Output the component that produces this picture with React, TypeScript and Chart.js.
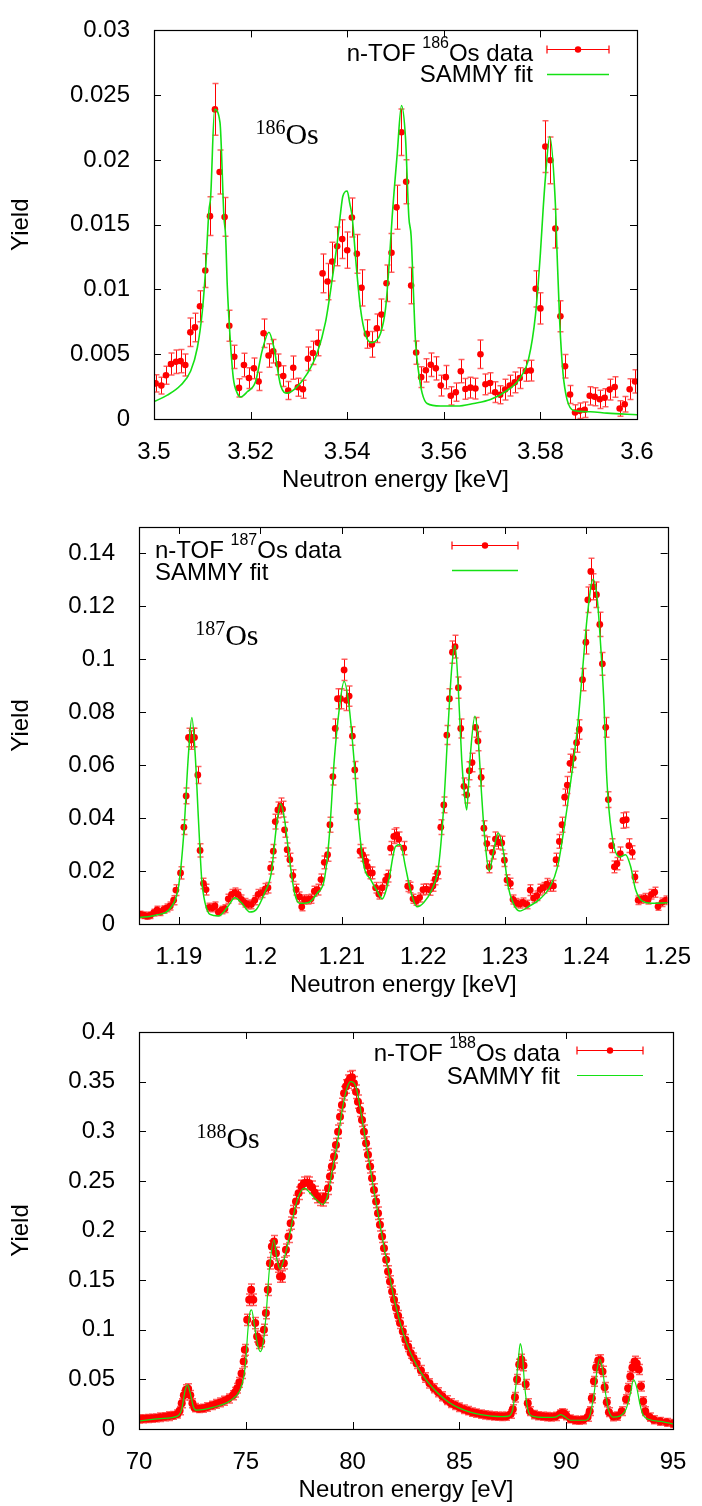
import React, { useEffect, useRef } from "react";
import { Chart, registerables } from "chart.js";
Chart.register(...registerables);

const SANS = "'Liberation Sans', Arial, Helvetica, sans-serif";
const SERIF = "'Liberation Serif', 'Times New Roman', serif";

// ---------------- text ----------------
const yTitle = "Yield";
const xTitleKeV = "Neutron energy [keV]";
const xTitleEV = "Neutron energy [eV]";
const legendPrefix = "n-TOF ";
const legendSuffix = "Os data";
const fitLabel = "SAMMY fit";
const elementLabel = "Os";

// ---------------- panel 1 : 186Os ----------------
const os186Iso = "186";
const os186XTicks = [3.5, 3.52, 3.54, 3.56, 3.58, 3.6];
const os186XLabels = ["3.5", "3.52", "3.54", "3.56", "3.58", "3.6"];
const os186YTicks = [0, 0.005, 0.01, 0.015, 0.02, 0.025, 0.03];
const os186YLabels = ["0", "0.005", "0.01", "0.015", "0.02", "0.025", "0.03"];
const os186Energy = [
  3.50034, 3.50152, 3.50248, 3.50352, 3.50455, 3.50552, 3.50648, 3.50752, 3.50848, 3.50952,
  3.51062, 3.51159, 3.51262, 3.51359, 3.51462, 3.51559, 3.51662, 3.51759, 3.51862, 3.51966,
  3.52069, 3.52166, 3.52269, 3.52372, 3.52469, 3.52572, 3.52676, 3.52779, 3.52883, 3.52979,
  3.53083, 3.53186, 3.5329, 3.53393, 3.5349, 3.53593, 3.5369, 3.53793, 3.53897, 3.54,
  3.54097, 3.542, 3.54297, 3.54407, 3.5451, 3.54614, 3.5471, 3.54814, 3.54917, 3.55021,
  3.55124, 3.55221, 3.55324, 3.55428, 3.55531, 3.55628, 3.55731, 3.55834, 3.55938, 3.56041,
  3.56145, 3.56248, 3.56352, 3.56448, 3.56552, 3.56655, 3.56759, 3.56862, 3.56959, 3.57062,
  3.57166, 3.57269, 3.57366, 3.57469, 3.57572, 3.57697, 3.578, 3.57903, 3.58, 3.58103,
  3.58207, 3.5831, 3.58414, 3.5851, 3.58614, 3.58717, 3.58814, 3.58917, 3.59021, 3.59124,
  3.59228, 3.59331, 3.59434, 3.59538, 3.59641, 3.59745, 3.59848, 3.59959,
];
const os186Yield = [
  0.00275, 0.00258, 0.00338, 0.00424, 0.00442, 0.00447, 0.00417, 0.00669, 0.00707, 0.00871,
  0.01146, 0.01566, 0.0239, 0.01907, 0.0156, 0.0072, 0.0048, 0.0024, 0.00417, 0.00316,
  0.00391, 0.0029, 0.00662, 0.0049, 0.00523, 0.00422, 0.00331, 0.0022, 0.00396, 0.00245,
  0.0023, 0.00465, 0.0051, 0.00588, 0.01124, 0.01061, 0.01215, 0.01333, 0.01389, 0.01303,
  0.01556, 0.01275, 0.01013, 0.00657, 0.00576, 0.007, 0.00806, 0.01048, 0.01283, 0.01634,
  0.02214, 0.01831, 0.0103, 0.00513, 0.00323, 0.00376, 0.00419, 0.00391, 0.00258, 0.00323,
  0.00179, 0.00207, 0.00369, 0.00232, 0.00242, 0.00235, 0.005, 0.00268, 0.00278, 0.00207,
  0.00187, 0.00227, 0.00258, 0.00283, 0.00316, 0.00371, 0.00374, 0.01005, 0.00854, 0.02103,
  0.01997, 0.0147, 0.00793, 0.00407, 0.00189, 0.0005, 0.00063, 0.00071, 0.00179, 0.00172,
  0.00152, 0.00164, 0.00227, 0.00247, 0.00081, 0.00114, 0.0023, 0.0029,
];
const os186Err = [
  0.00066, 0.00065, 0.0007, 0.00085, 0.0009, 0.0009, 0.00085, 0.0011, 0.0011, 0.0012,
  0.0013, 0.0015, 0.002, 0.0017, 0.0015, 0.0012, 0.0009, 0.0007, 0.0009, 0.0008,
  0.0008, 0.0007, 0.0011, 0.0009, 0.0009, 0.0008, 0.0008, 0.0007, 0.0009, 0.0007,
  0.0007, 0.0009, 0.0009, 0.001, 0.0015, 0.0014, 0.0015, 0.0015, 0.0015, 0.0014,
  0.0015, 0.0015, 0.0014, 0.0011, 0.001, 0.0011, 0.0012, 0.0014, 0.0015, 0.0017,
  0.0018, 0.0017, 0.0014, 0.0009, 0.0008, 0.0009, 0.0009, 0.0009, 0.0008, 0.0009,
  0.0007, 0.0007, 0.0009, 0.0008, 0.0008, 0.0008, 0.0011, 0.0008, 0.0008, 0.0008,
  0.0007, 0.0008, 0.0008, 0.0008, 0.0008, 0.0008, 0.0008, 0.0014, 0.0012, 0.002,
  0.0018, 0.0015, 0.0012, 0.0009, 0.0007, 0.0006, 0.0006, 0.0006, 0.0007, 0.0007,
  0.0007, 0.0007, 0.0008, 0.0008, 0.0006, 0.0006, 0.0008, 0.0009,
];
const os186FitEnergy = [
  3.5, 3.50276, 3.50552, 3.50759, 3.50897, 3.51, 3.51069, 3.51138, 3.51172, 3.51255,
  3.51366, 3.51448, 3.51483, 3.51517, 3.51572, 3.51641, 3.51724, 3.51793, 3.51931, 3.52103,
  3.52241, 3.52379, 3.52483, 3.52621, 3.52759, 3.52966, 3.53172, 3.53379, 3.53552, 3.5369,
  3.53793, 3.53862, 3.5391, 3.54, 3.54055, 3.54103, 3.54193, 3.54276, 3.54379, 3.54497,
  3.54586, 3.5469, 3.54793, 3.54862, 3.54931, 3.55034, 3.55124, 3.55207, 3.55276, 3.55324,
  3.55366, 3.55414, 3.55483, 3.55552, 3.55655, 3.55931, 3.56276, 3.56621, 3.56966, 3.5731,
  3.57586, 3.57759, 3.57897, 3.58, 3.58055, 3.58103, 3.58193, 3.5831, 3.58345, 3.584,
  3.58469, 3.58552, 3.5869, 3.59034, 3.59379, 3.6,
];
const os186FitYield = [
  0.00134, 0.00184, 0.0026, 0.0037, 0.0055, 0.0083, 0.0116, 0.0161, 0.0171, 0.0239,
  0.0229, 0.0156, 0.0141, 0.0103, 0.0065, 0.0032, 0.002, 0.0017, 0.0021, 0.0029,
  0.0053, 0.0067, 0.0055, 0.0026, 0.002, 0.0025, 0.0035, 0.0051, 0.0075, 0.0108,
  0.0136, 0.0159, 0.0172, 0.0176, 0.0166, 0.0156, 0.0116, 0.0085, 0.0065, 0.0059,
  0.006, 0.0066, 0.0085, 0.0116, 0.0156, 0.0204, 0.0242, 0.0217, 0.0156, 0.0141,
  0.0103, 0.006, 0.0035, 0.002, 0.0012, 0.001, 0.001, 0.0012, 0.0015, 0.0022,
  0.0032, 0.0047, 0.008, 0.0128, 0.0161, 0.0186, 0.0218, 0.0166, 0.0128, 0.0075,
  0.0035, 0.0015, 0.00066, 0.00056, 0.00045, 0.00033,
];

// ---------------- panel 2 : 187Os ----------------
const os187Iso = "187";
const os187XTicks = [1.19, 1.2, 1.21, 1.22, 1.23, 1.24, 1.25];
const os187XLabels = ["1.19", "1.2", "1.21", "1.22", "1.23", "1.24", "1.25"];
const os187YTicks = [0, 0.02, 0.04, 0.06, 0.08, 0.1, 0.12, 0.14];
const os187YLabels = ["0", "0.02", "0.04", "0.06", "0.08", "0.1", "0.12", "0.14"];
const os187Energy = [
  1.18528, 1.18569, 1.1861, 1.1865, 1.18691, 1.18732, 1.18772, 1.18813, 1.18854, 1.18894,
  1.18935, 1.18963, 1.1902, 1.19061, 1.19089, 1.19118, 1.19146, 1.19167, 1.19191, 1.19232,
  1.1926, 1.19301, 1.19333, 1.1937, 1.19411, 1.19443, 1.19484, 1.19524, 1.19565, 1.19606,
  1.19646, 1.19687, 1.19728, 1.19768, 1.19809, 1.1985, 1.1989, 1.19931, 1.19972, 1.2002,
  1.20061, 1.20093, 1.20126, 1.20159, 1.20183, 1.20215, 1.20248, 1.20272, 1.20297, 1.20329,
  1.20362, 1.20398, 1.20439, 1.2048, 1.20508, 1.20541, 1.20581, 1.20622, 1.20663, 1.20703,
  1.20744, 1.20785, 1.20825, 1.20854, 1.2089, 1.20919, 1.20947, 1.20984, 1.21028, 1.21057,
  1.2109, 1.2113, 1.21159, 1.21191, 1.21224, 1.21256, 1.21293, 1.21313, 1.21341, 1.21374,
  1.21415, 1.21455, 1.21496, 1.21537, 1.21565, 1.21598, 1.21638, 1.21671, 1.21699, 1.2176,
  1.21809, 1.21841, 1.21874, 1.21915, 1.21955, 1.21996, 1.22037, 1.22077, 1.22118, 1.22146,
  1.22175, 1.22215, 1.22252, 1.22289, 1.22321, 1.22358, 1.2239, 1.22431, 1.2246, 1.225,
  1.22533, 1.22565, 1.22598, 1.22642, 1.22671, 1.22711, 1.22744, 1.2278, 1.22809, 1.2285,
  1.22886, 1.22923, 1.22963, 1.22996, 1.23028, 1.23069, 1.23102, 1.23142, 1.23183, 1.23224,
  1.23272, 1.23313, 1.23354, 1.23394, 1.23435, 1.23476, 1.23516, 1.23557, 1.23598, 1.2363,
  1.23671, 1.23703, 1.23736, 1.23768, 1.23801, 1.23841, 1.23882, 1.23915, 1.23955, 1.23996,
  1.2402, 1.24057, 1.24089, 1.24126, 1.24167, 1.24199, 1.2424, 1.24272, 1.24313, 1.24346,
  1.24378, 1.24419, 1.24451, 1.24492, 1.24524, 1.24565, 1.24598, 1.24638, 1.24679, 1.2472,
  1.2476, 1.24801, 1.24841, 1.24882, 1.24931, 1.2498,
];
const os187Yield = [
  0.0036, 0.0033, 0.003, 0.0033, 0.0043, 0.0053, 0.0045, 0.0055, 0.0061, 0.0068,
  0.009, 0.0128, 0.0193, 0.0366, 0.0484, 0.0705, 0.0695, 0.0705, 0.0705, 0.0563,
  0.0278, 0.0153, 0.013, 0.0063, 0.0061, 0.0068, 0.0045, 0.0053, 0.0058, 0.0095,
  0.0112, 0.0118, 0.0112, 0.0093, 0.008, 0.0074, 0.0074, 0.009, 0.0112, 0.0118,
  0.0133, 0.0137, 0.0212, 0.0275, 0.0387, 0.0431, 0.0446, 0.0434, 0.0356, 0.0281,
  0.0243, 0.0183, 0.013, 0.0103, 0.0065, 0.0093, 0.0093, 0.0095, 0.0124, 0.013,
  0.0168, 0.0233, 0.0262, 0.0375, 0.0557, 0.0739, 0.0851, 0.0851, 0.096, 0.0845,
  0.0861, 0.071, 0.0582, 0.0425, 0.0275, 0.0262, 0.0237, 0.0218, 0.0193, 0.0193,
  0.0137, 0.0112, 0.0137, 0.0166, 0.0181, 0.0287, 0.0331, 0.0337, 0.0321, 0.0287,
  0.0143, 0.0138, 0.0095, 0.0087, 0.01, 0.013, 0.0132, 0.0129, 0.0144, 0.0169,
  0.0194, 0.0366, 0.045, 0.0714, 0.0851, 0.1027, 0.1048, 0.0893, 0.0739, 0.052,
  0.0488, 0.0579, 0.061, 0.0743, 0.0691, 0.0554, 0.0362, 0.0304, 0.0216, 0.0271,
  0.0321, 0.0309, 0.0306, 0.0241, 0.0166, 0.0153, 0.0093, 0.008, 0.0076, 0.0082,
  0.0074, 0.0128, 0.0098, 0.0107, 0.013, 0.0137, 0.0151, 0.0144, 0.0144, 0.0243,
  0.0312, 0.0375, 0.0479, 0.0525, 0.0607, 0.0626, 0.0685, 0.0735, 0.0923, 0.1065,
  0.1225, 0.1332, 0.1274, 0.1244, 0.1132, 0.0983, 0.0743, 0.047, 0.0296, 0.0216,
  0.0228, 0.0266, 0.0391, 0.0394, 0.0296, 0.0271, 0.0178, 0.009, 0.0094, 0.0098,
  0.0092, 0.0112, 0.012, 0.0066, 0.0082, 0.009,
];
const os187Err = [
  0.0012, 0.0012, 0.0012, 0.0012, 0.0013, 0.0014, 0.0013, 0.0014, 0.0015, 0.0015,
  0.0017, 0.002, 0.0023, 0.0028, 0.003, 0.0035, 0.0035, 0.0035, 0.0035, 0.0032,
  0.0025, 0.002, 0.002, 0.0015, 0.0015, 0.0015, 0.0013, 0.0014, 0.0015, 0.0017,
  0.0018, 0.0018, 0.0018, 0.0017, 0.0016, 0.0016, 0.0016, 0.0017, 0.0018, 0.0018,
  0.002, 0.002, 0.0023, 0.0025, 0.0028, 0.003, 0.003, 0.003, 0.0028, 0.0025,
  0.0024, 0.0022, 0.002, 0.0018, 0.0015, 0.0017, 0.0017, 0.0017, 0.0019, 0.002,
  0.0021, 0.0024, 0.0025, 0.0028, 0.0032, 0.0036, 0.0038, 0.0038, 0.004, 0.0038,
  0.0038, 0.0035, 0.0032, 0.003, 0.0025, 0.0025, 0.0024, 0.0023, 0.0022, 0.0022,
  0.002, 0.0018, 0.002, 0.0021, 0.0022, 0.0025, 0.0027, 0.0027, 0.0027, 0.0025,
  0.002, 0.002, 0.0017, 0.0016, 0.0017, 0.002, 0.002, 0.002, 0.002, 0.0021,
  0.0023, 0.0028, 0.003, 0.0036, 0.0038, 0.0042, 0.0043, 0.004, 0.0036, 0.0032,
  0.0031, 0.0034, 0.0035, 0.0037, 0.0036, 0.0033, 0.0028, 0.0026, 0.0022, 0.0025,
  0.0027, 0.0026, 0.0026, 0.0024, 0.002, 0.002, 0.0017, 0.0016, 0.0016, 0.0016,
  0.0016, 0.002, 0.0017, 0.0018, 0.002, 0.002, 0.0021, 0.002, 0.002, 0.0024,
  0.0026, 0.0028, 0.0031, 0.0032, 0.0034, 0.0035, 0.0036, 0.0037, 0.0042, 0.0045,
  0.0048, 0.005, 0.0049, 0.0048, 0.0046, 0.0043, 0.0037, 0.003, 0.0026, 0.0022,
  0.0023, 0.0025, 0.0029, 0.0029, 0.0026, 0.0025, 0.0021, 0.0016, 0.0016, 0.0017,
  0.0016, 0.0018, 0.0019, 0.0014, 0.0016, 0.0016,
];
const os187FitEnergy = [
  1.18508, 1.18711, 1.18915, 1.18996, 1.19057, 1.19118, 1.19159, 1.19199, 1.1924, 1.1928,
  1.19321, 1.19382, 1.19484, 1.19606, 1.19687, 1.19768, 1.1987, 1.19951, 1.20053, 1.20134,
  1.20195, 1.20248, 1.20297, 1.20358, 1.20419, 1.2048, 1.20581, 1.20703, 1.20785, 1.20846,
  1.20907, 1.20967, 1.21028, 1.2109, 1.2115, 1.21211, 1.21272, 1.21354, 1.21435, 1.21496,
  1.21577, 1.21659, 1.2172, 1.2178, 1.21841, 1.21923, 1.22004, 1.22106, 1.22187, 1.22248,
  1.22309, 1.2235, 1.2239, 1.22431, 1.22472, 1.22504, 1.22533, 1.22573, 1.22634, 1.22675,
  1.22715, 1.22756, 1.22809, 1.22858, 1.22919, 1.2298, 1.23041, 1.23102, 1.23183, 1.23305,
  1.23427, 1.23549, 1.2365, 1.23732, 1.23813, 1.23894, 1.23955, 1.24016, 1.24085, 1.24138,
  1.24179, 1.2422, 1.24248, 1.2428, 1.24341, 1.24411, 1.24484, 1.24545, 1.24606, 1.24687,
  1.24809, 1.25,
];
const os187FitYield = [
  0.0024, 0.0033, 0.0068, 0.0143, 0.0331, 0.0645, 0.078, 0.0645, 0.0394, 0.0168,
  0.008, 0.0036, 0.003, 0.0068, 0.0099, 0.008, 0.0045, 0.0055, 0.0118, 0.0193,
  0.0362, 0.0454, 0.0394, 0.0243, 0.0118, 0.0078, 0.008, 0.0118, 0.0168, 0.0331,
  0.0619, 0.0808, 0.0917, 0.082, 0.0619, 0.0369, 0.0218, 0.0168, 0.0124, 0.0095,
  0.0168, 0.0293, 0.03, 0.0218, 0.013, 0.0065, 0.008, 0.013, 0.0218, 0.0431,
  0.077, 0.097, 0.1052, 0.0883, 0.062, 0.0494, 0.0431, 0.062, 0.0785, 0.0695,
  0.0494, 0.0318, 0.02, 0.0268, 0.0344, 0.0281, 0.0143, 0.008, 0.0049, 0.0068,
  0.0093, 0.0137, 0.0218, 0.0369, 0.0545, 0.0745, 0.0958, 0.1171, 0.1303, 0.1221,
  0.1046, 0.082, 0.0582, 0.0431, 0.0293, 0.0253, 0.0262, 0.0218, 0.013, 0.0087,
  0.0078, 0.008,
];

// ---------------- panel 3 : 188Os ----------------
const os188Iso = "188";
const os188XTicks = [70, 75, 80, 85, 90, 95];
const os188XLabels = ["70", "75", "80", "85", "90", "95"];
const os188YTicks = [0, 0.05, 0.1, 0.15, 0.2, 0.25, 0.3, 0.35, 0.4];
const os188YLabels = ["0", "0.05", "0.1", "0.15", "0.2", "0.25", "0.3", "0.35", "0.4"];
const os188Energy = [
  70.0, 70.2, 70.4, 70.6, 70.8, 71.0, 71.2, 71.4, 71.6, 71.8,
  71.9, 72.0, 72.1, 72.2, 72.3, 72.4, 72.5, 72.6, 72.8, 73.0,
  73.2, 73.4, 73.6, 73.8, 74.0, 74.2, 74.4, 74.5, 74.6, 74.7,
  74.8, 74.9, 74.955, 75.065, 75.16, 75.25, 75.35, 75.44, 75.53, 75.63,
  75.72, 75.85, 75.94, 76.03, 76.13, 76.22, 76.32, 76.41, 76.5, 76.6,
  76.69, 76.78, 76.88, 77.0, 77.1, 77.22, 77.35, 77.47, 77.6, 77.72,
  77.85, 77.97, 78.1, 78.22, 78.35, 78.47, 78.6, 78.72, 78.85, 78.94,
  79.03, 79.13, 79.22, 79.32, 79.41, 79.5, 79.6, 79.69, 79.78, 79.88,
  79.97, 80.06, 80.16, 80.25, 80.35, 80.44, 80.53, 80.63, 80.72, 80.82,
  80.91, 81.0, 81.1, 81.19, 81.28, 81.38, 81.47, 81.57, 81.66, 81.75,
  81.85, 81.94, 82.03, 82.13, 82.22, 82.35, 82.47, 82.6, 82.72, 82.85,
  83.0, 83.2, 83.4, 83.6, 83.8, 84.0, 84.2, 84.4, 84.6, 84.8,
  85.0, 85.2, 85.4, 85.6, 85.8, 86.0, 86.2, 86.4, 86.6, 86.8,
  87.0, 87.2, 87.4, 87.5, 87.6, 87.7, 87.8, 87.9, 88.0, 88.1,
  88.2, 88.3, 88.5, 88.7, 88.9, 89.1, 89.3, 89.5, 89.7, 89.8,
  89.9, 90.0, 90.2, 90.4, 90.6, 90.8, 91.0, 91.1, 91.2, 91.3,
  91.4, 91.5, 91.6, 91.7, 91.8, 91.9, 92.0, 92.2, 92.4, 92.6,
  92.8, 92.9, 93.0, 93.1, 93.2, 93.3, 93.4, 93.5, 93.6, 93.7,
  93.9, 94.1, 94.4, 94.7, 95.0,
];
const os188Yield = [
  0.0101, 0.0103, 0.0105, 0.0108, 0.0112, 0.0118, 0.0124, 0.013, 0.0137, 0.0152,
  0.0185, 0.026, 0.034, 0.0395, 0.0405, 0.034, 0.026, 0.0215, 0.0205, 0.021,
  0.0222, 0.0238, 0.0252, 0.0268, 0.0285, 0.0308, 0.034, 0.037, 0.041, 0.047,
  0.056, 0.068, 0.0798, 0.11, 0.1302, 0.1402, 0.1302, 0.1067, 0.0932, 0.0866,
  0.0882, 0.1, 0.1168, 0.1402, 0.1671, 0.1838, 0.1889, 0.1772, 0.1637, 0.1537,
  0.1537, 0.1671, 0.1805, 0.1939, 0.2074, 0.2191, 0.2292, 0.2376, 0.2443, 0.2476,
  0.2483, 0.2476, 0.2436, 0.2382, 0.2342, 0.2315, 0.2309, 0.2342, 0.2426, 0.2544,
  0.2644, 0.2745, 0.2862, 0.2996, 0.3147, 0.3265, 0.3383, 0.345, 0.35, 0.3534,
  0.3544, 0.3483, 0.3399, 0.3298, 0.3215, 0.3114, 0.2996, 0.2879, 0.2762, 0.2644,
  0.2527, 0.2409, 0.2292, 0.2174, 0.2057, 0.1939, 0.1822, 0.1705, 0.1587, 0.1486,
  0.1386, 0.1302, 0.1218, 0.1141, 0.1067, 0.0983, 0.0899, 0.0832, 0.0765, 0.0715,
  0.066, 0.059, 0.052, 0.046, 0.041, 0.037, 0.033, 0.029, 0.026, 0.024,
  0.022, 0.02, 0.0185, 0.017, 0.016, 0.015, 0.0143, 0.0137, 0.0132, 0.0128,
  0.0127, 0.0128, 0.015, 0.02, 0.032, 0.05, 0.065, 0.07, 0.064, 0.045,
  0.026, 0.018, 0.0145, 0.0133, 0.0128, 0.0124, 0.0122, 0.0127, 0.015, 0.0162,
  0.0155, 0.0135, 0.0102, 0.009, 0.0087, 0.0092, 0.012, 0.018, 0.031, 0.048,
  0.062, 0.069, 0.0695, 0.058, 0.042, 0.027, 0.017, 0.0125, 0.013, 0.018,
  0.03, 0.041, 0.053, 0.062, 0.068, 0.066, 0.06, 0.043, 0.028, 0.018,
  0.012, 0.0094, 0.0077, 0.0067, 0.0055,
];
const os188Err = [
  0.004, 0.004, 0.004, 0.004, 0.004, 0.0042, 0.004, 0.0045, 0.004, 0.004,
  0.0042, 0.0045, 0.0048, 0.005, 0.005, 0.0048, 0.0045, 0.0042, 0.004, 0.004,
  0.0042, 0.0042, 0.0044, 0.0044, 0.0045, 0.0045, 0.0046, 0.0047, 0.0048, 0.0049,
  0.005, 0.0052, 0.0054, 0.0056, 0.0058, 0.0058, 0.0058, 0.0056, 0.0055, 0.0054,
  0.0054, 0.0055, 0.0056, 0.0057, 0.0058, 0.0059, 0.006, 0.0059, 0.0058, 0.0058,
  0.0058, 0.006, 0.006, 0.0061, 0.0062, 0.0062, 0.0063, 0.0063, 0.0064, 0.0064,
  0.0064, 0.0064, 0.0064, 0.0063, 0.0063, 0.0063, 0.0063, 0.0063, 0.0064, 0.0064,
  0.0065, 0.0065, 0.0066, 0.0066, 0.0067, 0.0067, 0.0068, 0.0068, 0.0068, 0.0069,
  0.0069, 0.0068, 0.0068, 0.0067, 0.0067, 0.0066, 0.0066, 0.0065, 0.0065, 0.0064,
  0.0064, 0.0063, 0.0062, 0.0062, 0.0061, 0.006, 0.006, 0.0059, 0.0058, 0.0057,
  0.0056, 0.0056, 0.0055, 0.0054, 0.0054, 0.0053, 0.0052, 0.0052, 0.0051, 0.005,
  0.005, 0.0049, 0.0048, 0.0047, 0.0046, 0.0045, 0.0045, 0.0044, 0.0044, 0.0043,
  0.0043, 0.0043, 0.0042, 0.0042, 0.0042, 0.0042, 0.0041, 0.0041, 0.0041, 0.0041,
  0.0041, 0.0041, 0.0042, 0.0044, 0.0047, 0.005, 0.0052, 0.0053, 0.0052, 0.0049,
  0.0045, 0.0043, 0.0042, 0.0041, 0.0041, 0.0041, 0.0041, 0.0041, 0.0042, 0.0042,
  0.0042, 0.0041, 0.004, 0.004, 0.004, 0.004, 0.0041, 0.0043, 0.0046, 0.0049,
  0.0051, 0.0052, 0.0052, 0.0051, 0.0048, 0.0046, 0.0043, 0.0041, 0.0041, 0.0043,
  0.0046, 0.0048, 0.005, 0.0051, 0.0052, 0.0052, 0.0051, 0.0048, 0.0046, 0.0043,
  0.0041, 0.004, 0.004, 0.004, 0.004,
];
const os188FitEnergy = [
  70, 71, 71.8, 72.0, 72.15, 72.27, 72.4, 72.55, 72.7, 73.5,
  74.3, 74.7, 74.9, 75.0, 75.1, 75.2, 75.27, 75.4, 75.55, 75.68,
  75.8, 75.95, 76.1, 76.32, 76.45, 76.6, 76.8, 77.0, 77.3, 77.5,
  77.75, 78.0, 78.3, 78.6, 78.85, 79.0, 79.3, 79.5, 79.7, 79.9,
  80.05, 80.2, 80.5, 81.0, 81.5, 82.0, 82.5, 83.0, 83.5, 84.0,
  84.5, 85.0, 85.5, 86.0, 86.5, 87.0, 87.3, 87.5, 87.65, 87.78,
  87.85, 87.95, 88.05, 88.2, 88.4, 89.0, 89.5, 89.75, 89.95, 90.2,
  90.9, 91.1, 91.3, 91.45, 91.57, 91.7, 91.85, 92.0, 92.2, 92.5,
  92.8, 93.0, 93.15, 93.3, 93.45, 93.6, 93.9, 94.5, 95.0,
];
const os188FitYield = [
  0.008, 0.0105, 0.013, 0.02, 0.038, 0.0445, 0.036, 0.022, 0.019, 0.022,
  0.029, 0.038, 0.052, 0.07, 0.1, 0.118, 0.12, 0.105, 0.085, 0.078,
  0.085, 0.115, 0.16, 0.1906, 0.172, 0.1611, 0.172, 0.19, 0.222, 0.236,
  0.2426, 0.238, 0.231, 0.2262, 0.237, 0.255, 0.29, 0.32, 0.341, 0.35,
  0.349, 0.341, 0.305, 0.24, 0.18, 0.126, 0.088, 0.064, 0.048, 0.036,
  0.027, 0.021, 0.017, 0.0145, 0.013, 0.0125, 0.013, 0.02, 0.045, 0.075,
  0.086, 0.075, 0.045, 0.02, 0.013, 0.0118, 0.012, 0.0145, 0.012, 0.0088,
  0.0088, 0.013, 0.035, 0.06, 0.0705, 0.06, 0.035, 0.018, 0.012, 0.013,
  0.02, 0.035, 0.0497, 0.042, 0.025, 0.014, 0.0095, 0.0075, 0.005,
];

// ---------------- drawing helpers ----------------
const RED = "#ff0000";
const GREEN = "rgb(20,225,20)";

function drawRich(ctx: any, parts: any[], x: number, baseline: number, align: string) {
  const widths = parts.map((p) => {
    ctx.font = p.font;
    return ctx.measureText(p.t).width;
  });
  const total = widths.reduce((a: number, b: number) => a + b, 0);
  let cx = align === "right" ? x - total : x;
  ctx.textAlign = "left";
  ctx.textBaseline = "alphabetic";
  parts.forEach((p, i) => {
    ctx.font = p.font;
    ctx.fillText(p.t, cx, baseline - p.rise);
    cx += widths[i];
  });
}

const errorBarsPlugin = {
  id: "errorBars",
  beforeDatasetsDraw(chart: any, _args: any, o: any) {
    const { ctx, chartArea: a, scales } = chart;
    const ys = scales.y;
    const cap = (o && o.cap) || 3;
    ctx.save();
    ctx.beginPath();
    ctx.rect(a.left, a.top, a.right - a.left, a.bottom - a.top);
    ctx.clip();
    chart.data.datasets.forEach((ds: any, i: number) => {
      if (!ds.errors) return;
      const meta = chart.getDatasetMeta(i);
      meta.data.forEach((pt: any, j: number) => {
        const v = ds.data[j].y;
        const e = ds.errors[j];
        const y0 = ys.getPixelForValue(v - e);
        const y1 = ys.getPixelForValue(v + e);
        const x = Math.round(pt.x) + 0.5;
        ctx.strokeStyle = "#ff0000";
        ctx.lineWidth = 1;
        ctx.beginPath();
        ctx.moveTo(x, y0);
        ctx.lineTo(x, y1);
        ctx.stroke();
        ctx.strokeStyle = "rgba(255,70,70,0.85)";
        ctx.lineWidth = 1.5;
        ctx.beginPath();
        ctx.moveTo(x - cap, y0);
        ctx.lineTo(x + cap, y0);
        ctx.moveTo(x - cap, y1);
        ctx.lineTo(x + cap, y1);
        ctx.stroke();
      });
    });
    ctx.restore();
  },
};

const framePlugin = {
  id: "frame",
  afterDraw(chart: any, _args: any, o: any) {
    const { ctx, chartArea: a, scales } = chart;
    const xs = scales.x;
    const ys = scales.y;
    ctx.save();
    // border
    ctx.strokeStyle = "#000";
    ctx.lineWidth = 1.2;
    ctx.strokeRect(Math.round(a.left) + 0.5, Math.round(a.top) + 0.5, Math.round(a.right - a.left), Math.round(a.bottom - a.top));
    // inward ticks on all sides
    ctx.lineWidth = 1;
    ctx.beginPath();
    xs.ticks.forEach((t: any) => {
      const px = Math.round(xs.getPixelForValue(t.value)) + 0.5;
      ctx.moveTo(px, a.bottom);
      ctx.lineTo(px, a.bottom - 7);
      ctx.moveTo(px, a.top);
      ctx.lineTo(px, a.top + 7);
    });
    ys.ticks.forEach((t: any) => {
      const py = Math.round(ys.getPixelForValue(t.value)) + 0.5;
      ctx.moveTo(a.left, py);
      ctx.lineTo(a.left + 7, py);
      ctx.moveTo(a.right, py);
      ctx.lineTo(a.right - 7, py);
    });
    ctx.stroke();

    // isotope annotation
    ctx.fillStyle = "#000";
    const ax = xs.getPixelForValue(o.annX);
    const ay = ys.getPixelForValue(o.annY);
    drawRich(
      ctx,
      [
        { t: o.iso, font: `20px ${SERIF}`, rise: 10 },
        { t: elementLabel, font: `30px ${SERIF}`, rise: 0 },
      ],
      ax,
      ay,
      "left"
    );

    // legend
    const L = o.legend;
    const tx = L.align === "right" ? a.right - L.textX : a.left + L.textX;
    drawRich(
      ctx,
      [
        { t: legendPrefix, font: `24px ${SANS}`, rise: 0 },
        { t: o.iso, font: `16px ${SANS}`, rise: 13 },
        { t: legendSuffix, font: `24px ${SANS}`, rise: 0 },
      ],
      tx,
      a.top + L.rows[0] + 8.6,
      L.align
    );
    drawRich(ctx, [{ t: fitLabel, font: `24px ${SANS}`, rise: 0 }], tx, a.top + L.rows[1] + 8.6, L.align);

    const sx1 = L.sampleFrom === "right" ? a.right - L.s1 : a.left + L.s1;
    const sx2 = L.sampleFrom === "right" ? a.right - L.s2 : a.left + L.s2;
    const sy1 = Math.round(a.top + L.sy[0]) + 0.5;
    const sy2 = Math.round(a.top + L.sy[1]) + 0.5;
    ctx.strokeStyle = "#ff0000";
    ctx.lineWidth = 1.2;
    ctx.beginPath();
    ctx.moveTo(sx1, sy1);
    ctx.lineTo(sx2, sy1);
    ctx.moveTo(sx1, sy1 - 4);
    ctx.lineTo(sx1, sy1 + 4);
    ctx.moveTo(sx2, sy1 - 4);
    ctx.lineTo(sx2, sy1 + 4);
    ctx.stroke();
    ctx.fillStyle = RED;
    ctx.beginPath();
    ctx.arc((sx1 + sx2) / 2, sy1, 3.2, 0, Math.PI * 2);
    ctx.fill();
    ctx.strokeStyle = GREEN;
    ctx.lineWidth = o.fitWidth;
    ctx.beginPath();
    ctx.moveTo(sx1, sy2);
    ctx.lineTo(sx2, sy2);
    ctx.stroke();
    ctx.restore();
  },
};

function buildConfig(p: any) {
  const font = { family: SANS, size: 24 };
  return {
    type: "scatter",
    data: {
      datasets: [
        {
          type: "line",
          label: fitLabel,
          data: p.fitE.map((x: number, i: number) => ({ x, y: p.fitY[i] })),
          borderColor: GREEN,
          borderWidth: p.fitWidth,
          pointRadius: 0,
          fill: false,
          cubicInterpolationMode: "monotone",
          order: 0,
        },
        {
          type: "scatter",
          label: "data",
          data: p.E.map((x: number, i: number) => ({ x, y: p.Y[i] })),
          errors: p.err,
          backgroundColor: RED,
          borderColor: RED,
          borderWidth: 0,
          pointRadius: p.pointRadius,
          pointHoverRadius: p.pointRadius,
          order: 1,
        },
      ],
    },
    options: {
      responsive: false,
      animation: false,
      devicePixelRatio: 1,
      events: [],
      layout: { padding: { top: p.padTop, right: p.padRight, left: 0, bottom: 0 } },
      plugins: {
        legend: { display: false },
        tooltip: { enabled: false },
        errorBars: { cap: p.cap },
        frame: { iso: p.iso, annX: p.annX, annY: p.annY, legend: p.legend, fitWidth: p.fitWidth },
      },
      scales: {
        x: {
          type: "linear",
          position: "bottom",
          min: p.xMin,
          max: p.xMax,
          grid: { display: false },
          border: { display: false },
          afterBuildTicks: (s: any) => {
            s.ticks = p.xTicks.map((v: number) => ({ value: v }));
          },
          afterFit: (s: any) => {
            s.height = 76;
          },
          ticks: {
            autoSkip: false,
            maxRotation: 0,
            minRotation: 0,
            padding: 11,
            color: "#000",
            font,
            callback: (_v: any, i: number) => p.xLabels[i],
          },
          title: { display: true, text: p.xTitle, color: "#000", font, padding: { top: 0, bottom: 0 } },
        },
        y: {
          type: "linear",
          position: "left",
          min: p.yMin,
          max: p.yMax,
          grid: { display: false },
          border: { display: false },
          afterBuildTicks: (s: any) => {
            s.ticks = p.yTicks.map((v: number) => ({ value: v }));
          },
          afterFit: (s: any) => {
            s.width = p.yWidth;
          },
          ticks: {
            autoSkip: false,
            padding: 16,
            color: "#000",
            font,
            callback: (_v: any, i: number) => p.yLabels[i],
          },
          title: { display: true, text: yTitle, color: "#000", font, padding: { top: 7, bottom: 0 } },
        },
      },
    },
    plugins: [errorBarsPlugin, framePlugin],
  };
}

const panels = [
  {
    top: 0, height: 495, padTop: 22, padRight: 65, yWidth: 154,
    xMin: 3.5, xMax: 3.6, yMin: 0, yMax: 0.03,
    xTicks: os186XTicks, xLabels: os186XLabels, yTicks: os186YTicks, yLabels: os186YLabels,
    xTitle: xTitleKeV, iso: os186Iso, annX: 3.521, annY: 0.02122,
    E: os186Energy, Y: os186Yield, err: os186Err, fitE: os186FitEnergy, fitY: os186FitYield,
    fitWidth: 1.6, pointRadius: 3.3, cap: 3,
    legend: { align: "right", textX: 104, rows: [22, 42.5], sampleFrom: "right", s1: 90, s2: 28, sy: [19, 43.7] },
  },
  {
    top: 495, height: 505, padTop: 32, padRight: 29, yWidth: 139,
    xMin: 1.1851, xMax: 1.25, yMin: 0, yMax: 0.15,
    xTicks: os187XTicks, xLabels: os187XLabels, yTicks: os187YTicks, yLabels: os187YLabels,
    xTitle: xTitleKeV, iso: os187Iso, annX: 1.192, annY: 0.1055,
    E: os187Energy, Y: os187Yield, err: os187Err, fitE: os187FitEnergy, fitY: os187FitYield,
    fitWidth: 1.5, pointRadius: 3.4, cap: 3,
    legend: { align: "left", textX: 16, rows: [22, 44.5], sampleFrom: "left", s1: 313, s2: 379, sy: [18.3, 43.3] },
  },
  {
    top: 1000, height: 505, padTop: 32, padRight: 29, yWidth: 139,
    xMin: 70, xMax: 95, yMin: 0, yMax: 0.4,
    xTicks: os188XTicks, xLabels: os188XLabels, yTicks: os188YTicks, yLabels: os188YLabels,
    xTitle: xTitleEV, iso: os188Iso, annX: 72.69, annY: 0.2829,
    E: os188Energy, Y: os188Yield, err: os188Err, fitE: os188FitEnergy, fitY: os188FitYield,
    fitWidth: 1.2, pointRadius: 4, cap: 3.5,
    legend: { align: "right", textX: 113, rows: [20.5, 43], sampleFrom: "right", s1: 96, s2: 30, sy: [18, 43] },
  },
];

function Panel({ cfg }: { cfg: any }) {
  const ref = useRef<HTMLCanvasElement>(null);
  useEffect(() => {
    const chart = new Chart(ref.current as HTMLCanvasElement, buildConfig(cfg) as any);
    return () => chart.destroy();
  }, []);
  return (
    <canvas
      ref={ref}
      width={702}
      height={cfg.height}
      style={{ position: "absolute", left: 0, top: cfg.top, width: 702, height: cfg.height, display: "block" }}
    />
  );
}

export default function App() {
  return (
    <div style={{ position: "absolute", left: 0, top: 0, width: 702, height: 1506, background: "#fff", overflow: "hidden" }}>
      {panels.map((p, i) => (
        <Panel key={i} cfg={p} />
      ))}
    </div>
  );
}
